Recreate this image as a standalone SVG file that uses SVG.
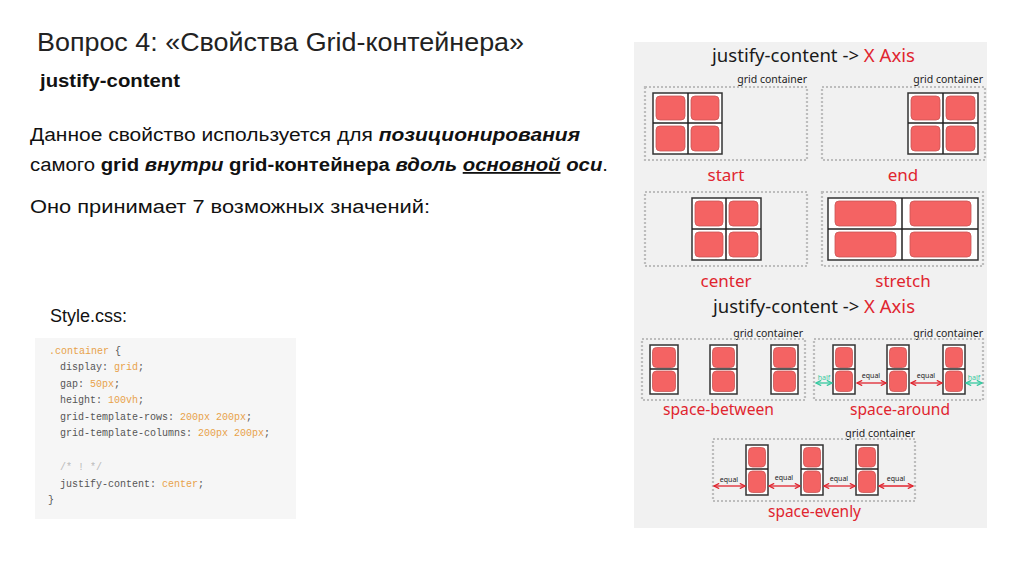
<svg xmlns="http://www.w3.org/2000/svg" width="1024" height="574" viewBox="0 0 1024 574">
<defs>
<style>
.ttl{font-family:"Liberation Sans",Arial,sans-serif;fill:#222}
.body{font-family:"Liberation Sans",Arial,sans-serif;fill:#111;font-size:18px}
.b{font-weight:bold}
.bi{font-weight:bold;font-style:italic}
.code{font-family:"Liberation Mono","DejaVu Sans Mono",monospace;font-size:10px;fill:#555}
.v{fill:#e8a24a}
.cm{fill:#bbb}
.pt{font-family:"Noto Sans","Open Sans",sans-serif;fill:#1a1a1a}
.red{fill:#e0252f}
.gc{font-family:"Noto Sans","Open Sans",sans-serif;font-size:10.5px;fill:#222;text-anchor:end}
.lbl{font-family:"Noto Sans","Open Sans",sans-serif;font-size:17px;fill:#e0252f;text-anchor:middle}
.dot{fill:none;stroke:#bdbdbd;stroke-width:2.2;stroke-dasharray:2 2}
.grid{fill:#fff;stroke:#333;stroke-width:1.5}
.gl{stroke:#222;stroke-width:1.5}
.cell{fill:#f46363;stroke:#c95555;stroke-width:0.8}
.ar{stroke:#e0252f;stroke-width:1.3;fill:none}
.at{stroke:#35c9a0;stroke-width:1.3;fill:none}
.sm{font-family:"Noto Sans","Open Sans",sans-serif;font-size:7px;text-anchor:middle}
</style>
<marker id="ar" viewBox="0 0 10 10" refX="9" refY="5" markerWidth="5" markerHeight="5" orient="auto-start-reverse"><path d="M1,1 L9,5 L1,9" fill="none" stroke="#e0252f" stroke-width="2"/></marker>
<marker id="at" viewBox="0 0 10 10" refX="9" refY="5" markerWidth="5" markerHeight="5" orient="auto-start-reverse"><path d="M1,1 L9,5 L1,9" fill="none" stroke="#35c9a0" stroke-width="2"/></marker>
</defs>
<rect width="1024" height="574" fill="#fff"/>

<g id="left-text">
<text class="ttl" x="37" y="51" font-size="26" textLength="487" lengthAdjust="spacingAndGlyphs">Вопрос 4: «Свойства Grid-контейнера»</text>
<text class="body b" x="40" y="87" font-size="19" textLength="140" lengthAdjust="spacingAndGlyphs">justify-content</text>
<text class="body" x="30" y="141" textLength="550" lengthAdjust="spacingAndGlyphs">Данное свойство используется для <tspan class="bi">позиционирования</tspan></text>
<text class="body" x="30" y="171" textLength="578" lengthAdjust="spacingAndGlyphs">самого <tspan class="b">grid</tspan> <tspan class="bi">внутри</tspan> <tspan class="b">grid-контейнера</tspan> <tspan class="bi">вдоль</tspan> <tspan class="bi" text-decoration="underline">основной</tspan> <tspan class="bi">оси</tspan>.</text>
<text class="body" x="30" y="213" textLength="400" lengthAdjust="spacingAndGlyphs">Оно принимает 7 возможных значений:</text>
<text class="body" x="50" y="322">Style.css:</text>
</g>

<g id="code-block">
<rect x="35" y="338" width="261" height="181" fill="#f6f6f6"/>
<text class="code" x="49" y="354"><tspan class="v">.container</tspan> {</text>
<text class="code" x="60" y="370">display: <tspan class="v">grid</tspan>;</text>
<text class="code" x="60" y="387">gap: <tspan class="v">50px</tspan>;</text>
<text class="code" x="60" y="403">height: <tspan class="v">100vh</tspan>;</text>
<text class="code" x="60" y="420">grid-template-rows: <tspan class="v">200px 200px</tspan>;</text>
<text class="code" x="60" y="436">grid-template-columns: <tspan class="v">200px 200px</tspan>;</text>
<text class="code cm" x="60" y="470">/* ! */</text>
<text class="code" x="60" y="487">justify-content: <tspan class="v">center</tspan>;</text>
<text class="code" x="48" y="503">}</text>
</g>

<g id="right-panel">
<rect x="634" y="42" width="353" height="486" fill="#f1f1f1"/>
<text class="pt" x="712" y="62" font-size="18" textLength="203" lengthAdjust="spacingAndGlyphs">justify-content -&gt; <tspan class="red">X Axis</tspan></text>
<text class="pt" x="713" y="313" font-size="18" textLength="202" lengthAdjust="spacingAndGlyphs">justify-content -&gt; <tspan class="red">X Axis</tspan></text>
</g>

<g id="start">
<text class="gc" x="807" y="83">grid container</text>
<rect class="dot" x="645" y="87" width="162" height="73"/>
<rect class="grid" x="653" y="93" width="69" height="61"/>
<line class="gl" x1="688" y1="93" x2="688" y2="154"/><line class="gl" x1="653" y1="123" x2="722" y2="123"/>
<rect class="cell" x="656" y="96" width="29" height="24" rx="4"/><rect class="cell" x="691" y="96" width="28" height="24" rx="4"/>
<rect class="cell" x="656" y="126" width="29" height="25" rx="4"/><rect class="cell" x="691" y="126" width="28" height="25" rx="4"/>
<text class="lbl" x="726" y="181">start</text>
</g>

<g id="end">
<text class="gc" x="983" y="83">grid container</text>
<rect class="dot" x="822" y="87" width="163" height="73"/>
<rect class="grid" x="908" y="93" width="70" height="61"/>
<line class="gl" x1="943" y1="93" x2="943" y2="154"/><line class="gl" x1="908" y1="123" x2="978" y2="123"/>
<rect class="cell" x="911" y="96" width="29" height="24" rx="4"/><rect class="cell" x="946" y="96" width="29" height="24" rx="4"/>
<rect class="cell" x="911" y="126" width="29" height="25" rx="4"/><rect class="cell" x="946" y="126" width="29" height="25" rx="4"/>
<text class="lbl" x="903" y="181">end</text>
</g>

<g id="center">
<rect class="dot" x="645" y="192" width="162" height="74"/>
<rect class="grid" x="692" y="198" width="69" height="62"/>
<line class="gl" x1="726" y1="198" x2="726" y2="260"/><line class="gl" x1="692" y1="229" x2="761" y2="229"/>
<rect class="cell" x="695" y="201" width="28" height="25" rx="4"/><rect class="cell" x="729" y="201" width="29" height="25" rx="4"/>
<rect class="cell" x="695" y="232" width="28" height="25" rx="4"/><rect class="cell" x="729" y="232" width="29" height="25" rx="4"/>
<text class="lbl" x="726" y="287">center</text>
</g>

<g id="stretch">
<rect class="dot" x="822" y="192" width="161" height="74"/>
<rect class="grid" x="828" y="198" width="150" height="62"/>
<line class="gl" x1="902" y1="198" x2="902" y2="260"/><line class="gl" x1="828" y1="229" x2="978" y2="229"/>
<rect class="cell" x="835" y="201" width="61" height="25" rx="4"/><rect class="cell" x="910" y="201" width="61" height="25" rx="4"/>
<rect class="cell" x="835" y="232" width="61" height="25" rx="4"/><rect class="cell" x="910" y="232" width="61" height="25" rx="4"/>
<text class="lbl" x="903" y="287">stretch</text>
</g>

<g id="space-between">
<text class="gc" x="803" y="337">grid container</text>
<rect class="dot" x="642" y="339" width="163" height="61"/>
<rect class="grid" x="650" y="345" width="28" height="49"/><line class="gl" x1="650" y1="369" x2="678" y2="369"/>
<rect class="cell" x="652.5" y="347.5" width="23" height="20" rx="4"/><rect class="cell" x="652.5" y="371" width="23" height="20.5" rx="4"/>
<rect class="grid" x="710" y="345" width="27" height="49"/><line class="gl" x1="710" y1="369" x2="737" y2="369"/>
<rect class="cell" x="712.5" y="347.5" width="22" height="20" rx="4"/><rect class="cell" x="712.5" y="371" width="22" height="20.5" rx="4"/>
<rect class="grid" x="771" y="345" width="27" height="49"/><line class="gl" x1="771" y1="369" x2="798" y2="369"/>
<rect class="cell" x="773.5" y="347.5" width="22" height="20" rx="4"/><rect class="cell" x="773.5" y="371" width="22" height="20.5" rx="4"/>
<text class="lbl" x="663" y="415" style="text-anchor:start" textLength="111" lengthAdjust="spacingAndGlyphs">space-between</text>
</g>

<g id="space-around">
<text class="gc" x="983" y="337">grid container</text>
<rect class="dot" x="814" y="339" width="169" height="61"/>
<rect class="grid" x="833" y="345" width="22" height="49"/><line class="gl" x1="833" y1="369" x2="855" y2="369"/>
<rect class="cell" x="835.5" y="347.5" width="17" height="20" rx="4"/><rect class="cell" x="835.5" y="371" width="17" height="20.5" rx="4"/>
<rect class="grid" x="887" y="345" width="22" height="49"/><line class="gl" x1="887" y1="369" x2="909" y2="369"/>
<rect class="cell" x="889.5" y="347.5" width="17" height="20" rx="4"/><rect class="cell" x="889.5" y="371" width="17" height="20.5" rx="4"/>
<rect class="grid" x="943" y="345" width="22" height="49"/><line class="gl" x1="943" y1="369" x2="965" y2="369"/>
<rect class="cell" x="945.5" y="347.5" width="17" height="20" rx="4"/><rect class="cell" x="945.5" y="371" width="17" height="20.5" rx="4"/>
<text class="sm" x="824" y="380" fill="#35c9a0">half</text>
<text class="sm" x="871" y="378" fill="#222">equal</text>
<text class="sm" x="926" y="378" fill="#222">equal</text>
<text class="sm" x="974" y="380" fill="#35c9a0">half</text>
<text class="lbl" x="850" y="415" style="text-anchor:start" textLength="100" lengthAdjust="spacingAndGlyphs">space-around</text>
</g>

<g id="space-evenly">
<text class="gc" x="915" y="437">grid container</text>
<rect class="dot" x="713" y="439" width="202" height="62"/>
<rect class="grid" x="746" y="445" width="22" height="50"/><line class="gl" x1="746" y1="469" x2="768" y2="469"/>
<rect class="cell" x="748.5" y="447.5" width="17" height="19.5" rx="4"/><rect class="cell" x="748.5" y="471" width="17" height="21.5" rx="4"/>
<rect class="grid" x="801" y="445" width="22" height="50"/><line class="gl" x1="801" y1="469" x2="823" y2="469"/>
<rect class="cell" x="803.5" y="447.5" width="17" height="19.5" rx="4"/><rect class="cell" x="803.5" y="471" width="17" height="21.5" rx="4"/>
<rect class="grid" x="856" y="445" width="22" height="50"/><line class="gl" x1="856" y1="469" x2="878" y2="469"/>
<rect class="cell" x="858.5" y="447.5" width="17" height="19.5" rx="4"/><rect class="cell" x="858.5" y="471" width="17" height="21.5" rx="4"/>
<text class="sm" x="729" y="482" fill="#222">equal</text>
<text class="sm" x="784" y="480" fill="#222">equal</text>
<text class="sm" x="839" y="481" fill="#222">equal</text>
<text class="sm" x="896" y="481" fill="#222">equal</text>
<text class="lbl" x="768" y="517" style="text-anchor:start" textLength="93" lengthAdjust="spacingAndGlyphs">space-evenly</text>
</g>

<g id="connectors">
<line class="at" x1="816" y1="383" x2="832" y2="383" marker-start="url(#at)" marker-end="url(#at)"/>
<line class="ar" x1="857" y1="383" x2="886" y2="383" marker-start="url(#ar)" marker-end="url(#ar)"/>
<line class="ar" x1="911" y1="383" x2="942" y2="383" marker-start="url(#ar)" marker-end="url(#ar)"/>
<line class="at" x1="966" y1="383" x2="982" y2="383" marker-start="url(#at)" marker-end="url(#at)"/>
<line class="ar" x1="714" y1="486" x2="745" y2="486" marker-start="url(#ar)" marker-end="url(#ar)"/>
<line class="ar" x1="769" y1="486" x2="800" y2="486" marker-start="url(#ar)" marker-end="url(#ar)"/>
<line class="ar" x1="824" y1="486" x2="855" y2="486" marker-start="url(#ar)" marker-end="url(#ar)"/>
<line class="ar" x1="879" y1="486" x2="913" y2="486" marker-start="url(#ar)" marker-end="url(#ar)"/>
</g>
</svg>
